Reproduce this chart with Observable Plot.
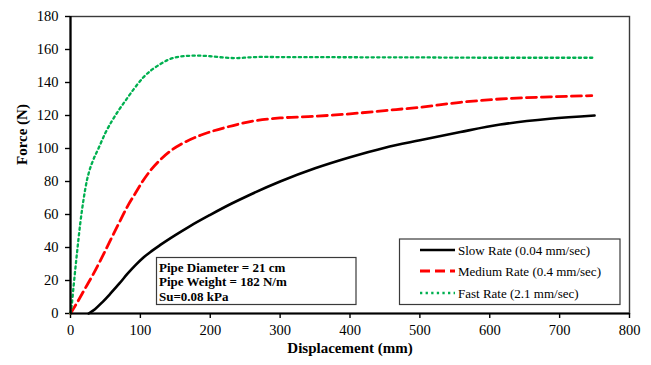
<!DOCTYPE html>
<html>
<head>
<meta charset="utf-8">
<script src="https://cdn.jsdelivr.net/npm/d3@7"></script>
<script src="https://cdn.jsdelivr.net/npm/@observablehq/plot@0.6"></script>
<style>
  html, body { margin: 0; padding: 0; background: #fff; }
  #chart { width: 651px; height: 365px; }
</style>
</head>
<body>
<div id="chart"></div>
<script>
// Slow Rate (0.04 mm/sec)
const slowX = [26, 35, 45, 57, 70, 81, 93, 104, 116, 128, 150, 170, 200, 230, 257, 300, 350, 400, 450, 500, 558, 615, 686, 750];
const slowY = [0, 2.6, 6.6, 12, 18.2, 23.8, 29.3, 33.8, 37.8, 41.4, 47.5, 52.7, 59.8, 66.5, 72, 80, 88, 94.7, 100.5, 105, 110, 114.5, 118, 120];
// Medium Rate (0.4 mm/sec)
const medX = [0, 10, 20, 33, 45, 57, 69, 81, 93, 104, 116, 128, 143, 160, 186, 224, 267, 300, 340, 400, 450, 500, 558, 615, 686, 746];
const medY = [0, 7, 14.5, 24.2, 34, 44.3, 54.5, 64.5, 73, 80.6, 87.5, 93, 98.5, 103, 108, 113, 117, 118.5, 119.3, 121, 123, 125, 128, 130, 131.3, 132];
// Fast Rate (2.1 mm/sec)
const fastX = [0, 2, 4.3, 9.2, 13.9, 19, 23.4, 27, 32, 40, 50, 60, 70, 80, 92, 104, 116, 128, 140, 152, 166, 181, 200, 220, 238, 255, 275, 300, 400, 500, 600, 700, 750];
const fastY = [0, 6, 16, 36.3, 54.4, 70, 80.5, 86.5, 92.5, 100, 109.5, 117.2, 123.8, 129.8, 136.8, 143, 147.6, 151, 153.8, 155.4, 156.1, 156.3, 155.9, 155.1, 154.8, 155.2, 155.5, 155.4, 155.3, 155.2, 155, 155, 155];

const seriesNames = ["Slow Rate (0.04 mm/sec)", "Medium Rate (0.4 mm/sec)", "Fast Rate (2.1 mm/sec)"];
const xTicks = [0, 100, 200, 300, 400, 500, 600, 700, 800];
const yTicks = [0, 20, 40, 60, 80, 100, 120, 140, 160, 180];
const xTitle = "Displacement (mm)";
const yTitle = "Force (N)";
const noteLines = ["Pipe Diameter = 21 cm", "Pipe Weight = 182 N/m", "Su=0.08 kPa"];

const toRows = (xs, ys) => xs.map((x, i) => ({x, y: ys[i]}));
const slow = toRows(slowX, slowY);
const med = toRows(medX, medY);
const fast = toRows(fastX, fastY);

const styles = [
  {stroke: "#000000", strokeWidth: 2.6, dash: null},
  {stroke: "#ff0000", strokeWidth: 2.8, dash: "10,5"},
  {stroke: "#00b050", strokeWidth: 2.3, dash: "2.3,3.3"}
];

const W = 651, H = 365;
const mL = 70, mR = 22, mT = 16, mB = 52;

const plot = Plot.plot({
  width: W,
  height: H,
  marginLeft: mL,
  marginRight: mR,
  marginTop: mT,
  marginBottom: mB,
  style: {fontFamily: "'Liberation Serif', 'Times New Roman', serif", fontSize: "14.5px", color: "#000", background: "#fff"},
  x: {domain: [0, 800]},
  y: {domain: [0, 180]},
  marks: [
    Plot.frame({stroke: "#3a3a3a", strokeWidth: 1.4}),
    Plot.axisX({ticks: xTicks, tickSize: 5, tickPadding: 6, label: null, tickFormat: d => String(d), strokeWidth: 1.4}),
    Plot.axisY({ticks: yTicks, tickSize: 5, tickPadding: 7, label: null, tickFormat: d => String(d), strokeWidth: 1.4}),
    Plot.line(slow, {x: "x", y: "y", stroke: styles[0].stroke, strokeWidth: styles[0].strokeWidth, curve: "monotone-x"}),
    Plot.line(med, {x: "x", y: "y", stroke: styles[1].stroke, strokeWidth: styles[1].strokeWidth, strokeDasharray: styles[1].dash, curve: "monotone-x"}),
    Plot.line(fast, {x: "x", y: "y", stroke: styles[2].stroke, strokeWidth: styles[2].strokeWidth, strokeDasharray: styles[2].dash, curve: "monotone-x"}),
    Plot.ruleX([0], {stroke: "#000", strokeWidth: 2.2}),
    Plot.ruleY([0], {stroke: "#000", strokeWidth: 2.2}),
    Plot.text([xTitle], {frameAnchor: "bottom", dy: 39, fontWeight: "bold", fontSize: 15, fill: "#000"}),
    Plot.text([yTitle], {frameAnchor: "left", dx: -48, rotate: -90, fontWeight: "bold", fontSize: 15, fill: "#000"})
  ]
});

document.getElementById("chart").appendChild(plot);

// Annotation box and legend (layout overlays)
const svg = d3.select(plot);
const fontFam = "'Liberation Serif', 'Times New Roman', serif";

const note = svg.append("g").attr("text-anchor", "start");
note.append("rect")
  .attr("x", 156.5).attr("y", 257.5).attr("width", 199.5).attr("height", 47)
  .attr("fill", "#fff").attr("stroke", "#3a3a3a").attr("stroke-width", 1.2);
noteLines.forEach((t, i) => {
  note.append("text")
    .attr("x", 159).attr("y", 271.5 + i * 14.8)
    .attr("text-anchor", "start")
    .attr("font-family", fontFam).attr("font-size", 13).attr("font-weight", "bold")
    .attr("fill", "#000").text(t);
});

const leg = svg.append("g").attr("text-anchor", "start");
leg.append("rect")
  .attr("x", 399.5).attr("y", 239).attr("width", 220.5).attr("height", 65.5)
  .attr("fill", "#fff").attr("stroke", "#3a3a3a").attr("stroke-width", 1.2);
const rowY = [250, 271, 293];
seriesNames.forEach((name, i) => {
  const s = styles[i];
  const ln = leg.append("line")
    .attr("x1", 420).attr("x2", 455).attr("y1", rowY[i]).attr("y2", rowY[i])
    .attr("stroke", s.stroke).attr("stroke-width", s.strokeWidth);
  if (s.dash) ln.attr("stroke-dasharray", s.dash);
  leg.append("text")
    .attr("x", 458).attr("y", rowY[i] + 4.5)
    .attr("text-anchor", "start")
    .attr("font-family", fontFam).attr("font-size", 13)
    .attr("fill", "#000").text(name);
});
</script>
</body>
</html>
